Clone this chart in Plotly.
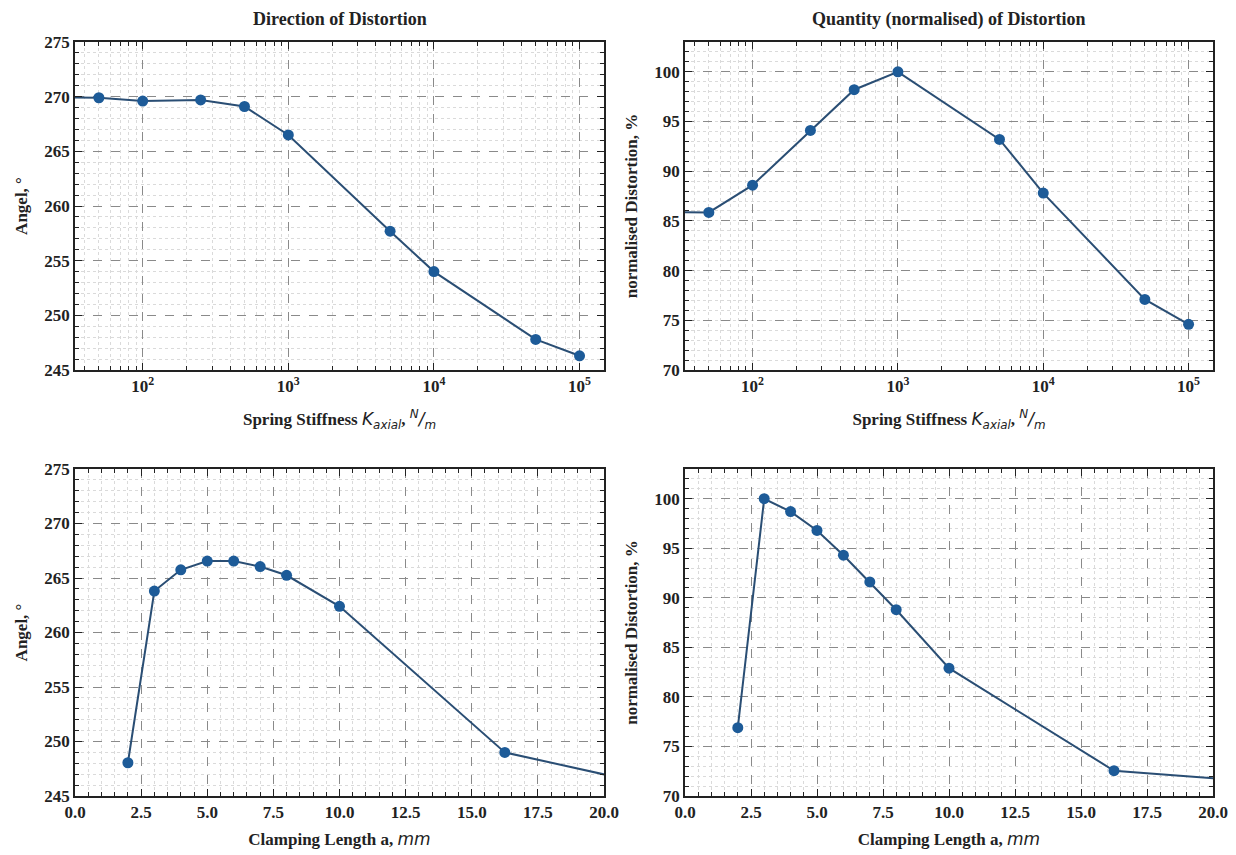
import plotly.graph_objects as go

# ---- data ----
stiffness = [10, 50, 100, 250, 500, 1000, 5000, 10000, 50000, 100000]
angle_stiff = [270.0, 269.9, 269.6, 269.7, 269.1, 266.5, 257.7, 254.0, 247.8, 246.3]
dist_stiff = [85.9, 85.85, 88.6, 94.1, 98.2, 100.0, 93.2, 87.8, 77.1, 74.6]

clamp_len = [2, 3, 4, 5, 6, 7, 8, 10, 16.25, 25]
angle_clamp = [248.05, 263.8, 265.75, 266.55, 266.55, 266.05, 265.25, 262.4, 249.0, 244.3]
dist_clamp = [76.9, 100.0, 98.7, 96.8, 94.3, 91.6, 88.8, 82.9, 72.55, 70.8]

log_tickvals = [100, 1000, 10000, 100000]
log_ticktext = ["10<sup>2</sup>", "10<sup>3</sup>", "10<sup>4</sup>", "10<sup>5</sup>"]

W, H = 1236, 855
MARK = "#1d5b98"
LINE = "#2a4e74"
SERIF = "Liberation Serif"

fig = go.Figure()

def px_x(a, b):
    return [a / W, b / W]

def px_y(top, bottom):
    return [1 - bottom / H, 1 - top / H]

panels = [
    (1, stiffness, angle_stiff),
    (2, stiffness, dist_stiff),
    (3, clamp_len, angle_clamp),
    (4, clamp_len, dist_clamp),
]
for i, xs, ys in panels:
    fig.add_trace(go.Scatter(
        x=xs, y=ys, mode="lines+markers",
        line=dict(color=LINE, width=2),
        marker=dict(color=MARK, size=11),
        xaxis="x" if i == 1 else f"x{i}",
        yaxis="y" if i == 1 else f"y{i}",
        showlegend=False, cliponaxis=True,
    ))

tickfont = dict(family=SERIF, size=17, color="#222", weight="bold")
titlefont = dict(family=SERIF, size=17, color="#222", weight="bold")

def axis_common():
    return dict(
        showline=True, linecolor="#222", linewidth=1.5, mirror="allticks",
        ticks="inside", ticklen=7, tickwidth=1.3, tickcolor="#222",
        showgrid=True, gridcolor="#8a8a8a", gridwidth=1, griddash="dash",
        zeroline=False, tickfont=tickfont, automargin=False,
    )

sans = "font-family:DejaVu Sans;font-weight:normal"
xkw = (f"Spring Stiffness <i><span style='{sans}'>K</span></i><sub><i><span style='{sans}'>axial</span></i></sub>"
       f", <i><span style='{sans}'><sup>N</sup>/<sub>m</sub></span></i>")
xcl = f"Clamping Length a, <i><span style='{sans}'>mm</span></i>"

domains_x = [px_x(75, 604), px_x(685, 1213), px_x(75, 604), px_x(685, 1213)]
domains_y = [px_y(42, 370), px_y(42, 370), px_y(469, 796), px_y(469, 796)]

minor_grid = dict(ticks="inside", ticklen=4, tickcolor="#222",
                  showgrid=True, gridcolor="#dadada", griddash="dot", gridwidth=1)

layout = {}
for i in range(1, 5):
    xa = axis_common()
    ya = axis_common()
    xa["domain"] = domains_x[i - 1]
    ya["domain"] = domains_y[i - 1]
    xa["anchor"] = "y" if i == 1 else f"y{i}"
    ya["anchor"] = "x" if i == 1 else f"x{i}"
    if i <= 2:
        xa.update(type="log", range=[1.535, 5.168], tickvals=log_tickvals, ticktext=log_ticktext,
                  minor=dict(minor_grid, dtick="D1"))
        xa["title"] = dict(text=xkw, font=titlefont, standoff=18)
    else:
        xa.update(range=[0, 20], dtick=2.5, tickformat=".1f", minor=dict(minor_grid, dtick=0.5))
        xa["title"] = dict(text=xcl, font=titlefont, standoff=12)
    if i in (1, 3):
        ya.update(range=[245, 275], dtick=5)
        ya["title"] = dict(text="Angel, °", font=titlefont, standoff=12)
    else:
        ya.update(range=[70, 103], tickvals=[70, 75, 80, 85, 90, 95, 100])
        ya["title"] = dict(text="normalised Distortion, %", font=titlefont, standoff=12)
    ya["minor"] = dict(minor_grid, dtick=1)
    sfx = "" if i == 1 else str(i)
    layout[f"xaxis{sfx}"] = xa
    layout[f"yaxis{sfx}"] = ya

fig.update_layout(**layout)
fig.update_layout(
    width=W, height=H, margin=dict(l=0, r=0, t=0, b=0, autoexpand=False),
    paper_bgcolor="white", plot_bgcolor="white",
    annotations=[
        dict(text="Direction of Distortion", x=340 / W, y=1 - 19 / H, xref="paper", yref="paper",
             xanchor="center", yanchor="middle",
             showarrow=False, font=dict(family=SERIF, size=18, color="#222", weight="bold")),
        dict(text="Quantity (normalised) of Distortion", x=949 / W, y=1 - 19 / H, xref="paper", yref="paper",
             xanchor="center", yanchor="middle",
             showarrow=False, font=dict(family=SERIF, size=18, color="#222", weight="bold")),
    ],
)

fig.write_html("out.html", config={"displayModeBar": False},
               post_script="document.body.style.margin='0';document.body.style.overflow='hidden';")
